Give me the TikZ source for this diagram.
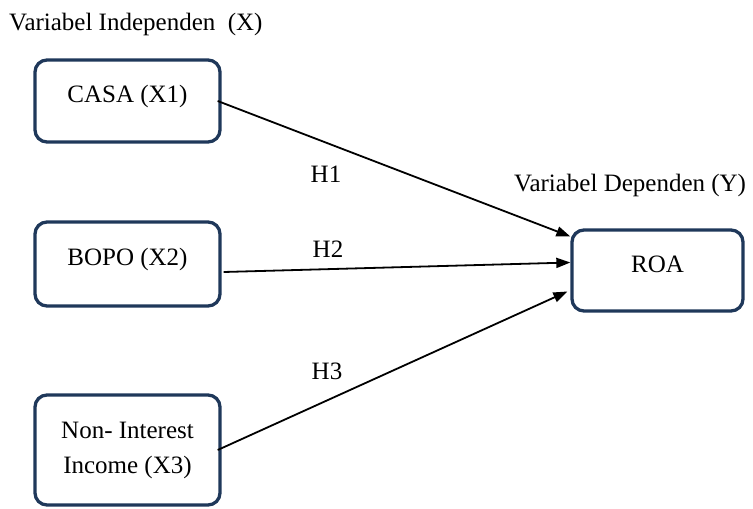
\documentclass[tikz,border=0pt]{standalone}
\usepackage{fontspec}
\setmainfont{Liberation Serif}
\usetikzlibrary{arrows.meta}
\definecolor{boxcol}{HTML}{1F385A}
\begin{document}
\begin{tikzpicture}[x=1pt,y=-1pt,
  every node/.style={font=\fontsize{25}{35}\selectfont, text=black},
  varbox/.style={draw=boxcol, line width=3.3pt, rounded corners=12pt, inner sep=0pt, fill=white},
  onebox/.style={varbox, text height=17pt, text depth=14pt},
  link/.style={line width=1.8pt, -{Triangle[length=14pt,width=10pt]}},
  lbl/.style={inner sep=0pt, anchor=base}]
\useasboundingbox (0,0) rectangle (753,509);
\node[lbl, anchor=base west] (tx) at (9,30) {Variabel Independen\ \ (X)};
\node[lbl, anchor=base west] (ty) at (514,191) {Variabel Dependen (Y)};
\node[onebox, minimum width=185pt, minimum height=82pt] (casa) at (127.5,101) {CASA (X1)};
\node[onebox, minimum width=185pt, minimum height=84pt] (bopo) at (127.5,264) {BOPO (X2)};
\node[varbox, minimum width=185pt, minimum height=110pt, align=center] (nii) at (127.5,450) {Non- Interest\\Income (X3)};
\node[onebox, minimum width=171pt, minimum height=81pt] (roa) at (657.5,270.5) {ROA};
\draw[link] ([xshift=-4pt]casa.east) -- ([yshift=34pt]roa.west);
\draw[link] ([xshift=2pt,yshift=-8pt]bopo.east) -- ([yshift=8pt]roa.west);
\draw[link] ([xshift=-4pt]nii.east) -- ([xshift=-3pt,yshift=-21pt]roa.west);
\node[lbl] (h1) at (326,182) {H1};
\node[lbl] (h2) at (328,257) {H2};
\node[lbl] (h3) at (327,379) {H3};
\end{tikzpicture}
\end{document}
